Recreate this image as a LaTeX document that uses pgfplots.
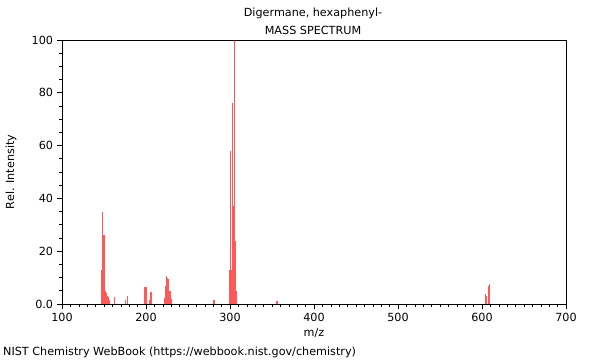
\documentclass[border=0pt]{standalone}
\usepackage{fontspec}
\setmainfont{DejaVu Sans}
\usepackage{pgfplots}
\pgfplotsset{compat=1.18}
\begin{document}
\fontsize{11.2bp}{13bp}\selectfont
\begin{tikzpicture}
\path (0,0) rectangle (600bp,360bp);
\node[inner sep=0] at (313bp,347bp) {Digermane, hexaphenyl-};
\node[inner sep=0] at (313bp,330bp) {MASS SPECTRUM};
\node[inner sep=0, anchor=west] at (3bp,8bp) {NIST Chemistry WebBook (https://webbook.nist.gov/chemistry)};
\begin{axis}[
  at={(62bp,56bp)}, anchor=south west,
  scale only axis, width=504bp, height=264bp,
  xmin=100, xmax=700, ymin=0, ymax=100,
  xtick={100,200,...,700}, ytick={0,20,...,100},
  yticklabels={0.0,20,40,60,80,100},
  minor x tick num=9, minor y tick num=3,
  tick align=outside, xtick pos=bottom, ytick pos=left,
  major tick length=5bp, minor tick length=3bp,
  axis line style={line width=0.8bp},
  every tick/.style={black, line width=0.6bp},
  /pgf/number format/assume math mode=true,
  tick label style={font=\fontsize{11.2bp}{13bp}\selectfont},
  label style={font=\fontsize{11.2bp}{13bp}\selectfont},
  xlabel={m/z}, ylabel={Rel. Intensity},
  xlabel style={at={(axis description cs:0.5,-0.11)}, anchor=center},
  ylabel style={at={(axis description cs:-0.101,0.5)}, anchor=center},
]
\addplot[ycomb, draw=red, opacity=0.65, line width=1.1bp] coordinates {
(147,13) (148,35) (149,5) (150,26) (151,6) (152,5) (153,4) (154,3) (155,2.5) (156,1.5) (157,1)
(162,2.8) (176,1.5) (178,3)
(198,6.3) (199,2) (200,6.3) (201,2) (204,1.5) (206,4.4) (207,1.2)
(222,2.3) (223,7) (224,10.7) (225,6) (226,10) (227,9.5) (228,4.8) (229,5) (230,2)
(281,1.5)
(300,13) (301,58) (302,13) (303,76) (304,37) (305,100) (306,24) (307,19) (308,5)
(356,1)
(604,3.8) (605,3) (608,6.8) (609,7.6)
};
\end{axis}
\end{tikzpicture}
\end{document}
